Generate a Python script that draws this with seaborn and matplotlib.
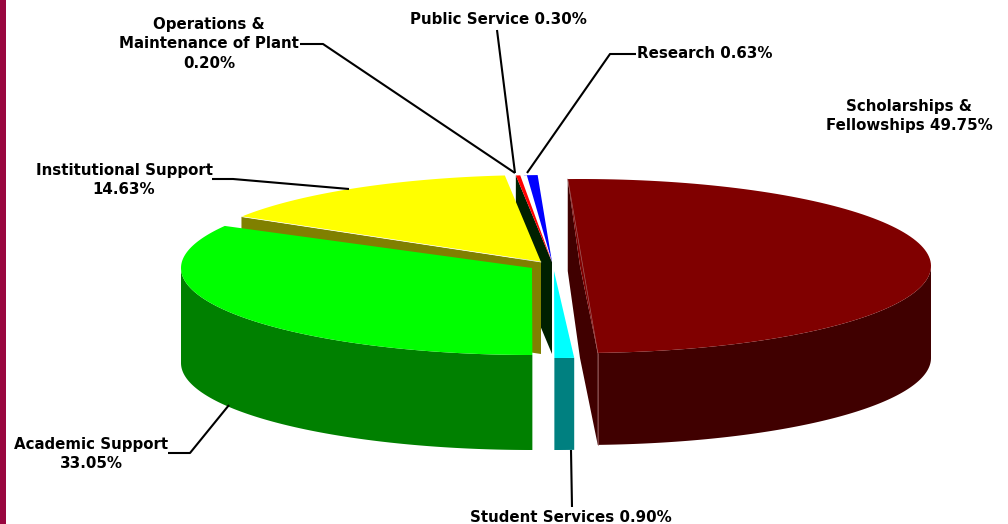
import numpy as np
import matplotlib.pyplot as plt
import seaborn as sns

sns.set_theme(style='white')
plt.rcParams['font.family'] = ['DejaVu Sans']

# =========================
#  DATA
# =========================

categories = ['Scholarships & Fellowships', 'Student Services', 'Academic Support',
              'Institutional Support', 'Operations & Maintenance of Plant',
              'Public Service', 'Research']
shares = [49.75, 0.90, 33.05, 14.63, 0.20, 0.30, 0.63]

top_colors = ['#800000', '#00FFFF', '#00FF00', '#FFFF00', '#FF0000', '#FFFFFF', '#0000FF']
side_colors = ['#400000', '#008080', '#008000', '#808000', '#002000', '#FFFFFF', '#000080']

# exploded centre of each slice, in figure pixels
centers = [(580, 266), (554, 271), (532, 268), (541, 262), (552, 262), (552, 262), (552, 262)]
# back slices sit a little further round in the original's perspective
turn = [0.4, 0, 0, 2.5, 2.5, 2.5, 2.0]
# the front of the pie looks slightly deeper than the rest
depths = [92, 92, 95, 92, 92, 92, 92]

RX, RY = 351, 87
START = -2.4


def rim(center, t0, t1, n=120):
    t = np.radians(np.linspace(t0, t1, n))
    return center[0] + RX * np.sin(t), center[1] - RY * np.cos(t)


def draw_side(ax, i, t0):
    # flat cut face going from the apex out to the rim at angle t0
    center = centers[i]
    x, y = rim(center, t0, t0, 1)
    ax.fill([center[0], x[0], x[0], center[0]],
            [center[1], y[0], y[0] + depths[i], center[1] + depths[i]],
            color=side_colors[i], lw=0)


def draw_wall(ax, i, t0, t1):
    # outer wall, only the part that faces the viewer
    a, b = max(t0, 90), min(t1, 270)
    if a >= b:
        return
    x, y = rim(centers[i], a, b)
    ax.fill(np.r_[x, x[::-1]], np.r_[y, y[::-1] + depths[i]], color=side_colors[i], lw=0)


def draw_top(ax, i, t0, t1):
    x, y = rim(centers[i], t0, t1)
    ax.fill(np.r_[centers[i][0], x], np.r_[centers[i][1], y], color=top_colors[i], lw=0)


# =========================
#  PIE
# =========================

def plot_pie(ax):
    edges = START + np.r_[0, np.cumsum(shares)] * 3.6
    spans = [(edges[i] + turn[i], edges[i + 1] + turn[i]) for i in range(len(shares))]

    # back to front
    draw_side(ax, 4, spans[4][0])
    for i in [6, 5, 4]:
        draw_top(ax, i, *spans[i])

    draw_side(ax, 3, spans[3][0])
    draw_top(ax, 3, *spans[3])
    x, y = rim(centers[3], spans[3][0], spans[3][0], 1)
    ax.plot([centers[3][0], x[0]], [centers[3][1], y[0]], color='white', lw=0.5)

    for i in [2, 1]:
        draw_wall(ax, i, *spans[i])
        draw_top(ax, i, *spans[i])

    draw_side(ax, 0, spans[0][0])
    draw_side(ax, 0, spans[0][1])
    draw_wall(ax, 0, *spans[0])
    draw_top(ax, 0, *spans[0])

    # pale seams along the cut of the big slice
    x, y = rim(centers[0], spans[0][1], spans[0][1], 1)
    ax.plot([x[0], x[0]], [y[0], y[0] + depths[0]], color='#A06060', lw=0.5)
    x0, y0 = rim(centers[0], spans[0][0], spans[0][0], 1)
    ax.plot([x0[0], x[0]], [y0[0], y[0]], color='#A06060', lw=0.5)


def plot_labels(ax):
    font = dict(fontsize=10.85, fontweight='bold', color='black', linespacing=1.41,
                ha='center', va='center')
    ax.text(209, 44, f'Operations &\nMaintenance of Plant\n{shares[4]:.2f}%', **font)
    ax.text(498, 20, f'Public Service {shares[5]:.2f}%', **font)
    ax.text(705, 54, f'Research {shares[6]:.2f}%', **font)
    ax.text(909, 116, f'Scholarships &\nFellowships {shares[0]:.2f}%', **font)
    ax.text(124, 180, f'Institutional Support\n{shares[3]:.2f}%', **font)
    ax.text(91, 454, f'Academic Support\n{shares[2]:.2f}%', **font)
    ax.text(571, 517, f'Student Services {shares[1]:.2f}%', **font)

    leaders = [
        ([300, 323, 515], [44, 44, 173]),
        ([497, 515], [30, 173]),
        ([636, 610, 527], [54, 54, 173]),
        ([212, 233, 349], [179, 179, 189]),
        ([168, 190, 229], [453, 453, 405]),
        ([571, 572], [450, 507]),
    ]
    for xs, ys in leaders:
        ax.plot(xs, ys, color='black', lw=1.5, solid_capstyle='butt')


def main():
    fig = plt.figure(figsize=(10.08, 5.24), dpi=100)
    ax = fig.add_axes([0, 0, 1, 1])
    ax.set_xlim(0, 1008)
    ax.set_ylim(524, 0)
    ax.axis('off')

    ax.axvspan(0, 5.5, color='#99063F', lw=0)
    plot_pie(ax)
    plot_labels(ax)

    fig.savefig('out.png', dpi=100)
    plt.close(fig)


if __name__ == "__main__":
    main()
